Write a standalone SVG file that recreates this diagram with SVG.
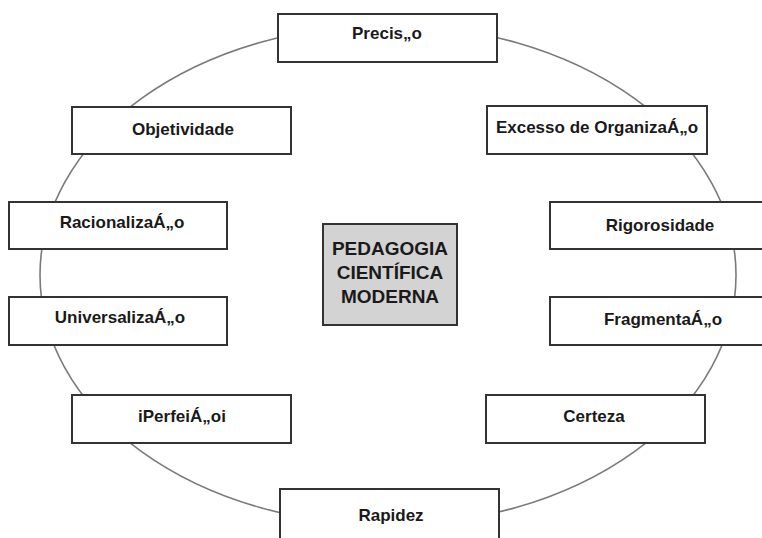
<svg xmlns="http://www.w3.org/2000/svg" width="762" height="538" viewBox="0 0 762 538">
<style>
.box{fill:#fff;stroke:#333;stroke-width:2}
.center{fill:#d3d3d3;stroke:#333;stroke-width:2}
.lbl{font-family:"Liberation Sans",Arial,sans-serif;font-weight:bold;font-size:17px;fill:#1a1a1a;text-anchor:middle}
.big{font-size:19px}
.ring{fill:none;stroke:#7a7a7a;stroke-width:1.6}
</style>
<rect width="762" height="538" fill="#fff"/>
<g id="connectors">
<ellipse class="ring" cx="388" cy="275" rx="348" ry="250"/>
</g>
<g id="center-node">
<rect class="center" x="323" y="224" width="134" height="101"/>
<text class="lbl big" x="390" y="255">PEDAGOGIA</text>
<text class="lbl big" x="390" y="279">CIENTÍFICA</text>
<text class="lbl big" x="390" y="303">MODERNA</text>
</g>
<g id="precisao">
<rect class="box" x="278" y="14" width="219" height="48"/>
<text class="lbl" x="387" y="39">Precis„o</text>
</g>
<g id="objetividade">
<rect class="box" x="72" y="107" width="219" height="47"/>
<text class="lbl" x="183" y="135">Objetividade</text>
</g>
<g id="excesso">
<rect class="box" x="487" y="106" width="220" height="48"/>
<text class="lbl" x="597" y="133">Excesso de OrganizaÁ„o</text>
</g>
<g id="racionalizacao">
<rect class="box" x="9" y="202" width="218" height="47"/>
<text class="lbl" x="122" y="228">RacionalizaÁ„o</text>
</g>
<g id="rigorosidade">
<rect class="box" x="550" y="202" width="220" height="47"/>
<text class="lbl" x="660" y="231">Rigorosidade</text>
</g>
<g id="universalizacao">
<rect class="box" x="9" y="297" width="218" height="48"/>
<text class="lbl" x="120" y="323">UniversalizaÁ„o</text>
</g>
<g id="fragmentacao">
<rect class="box" x="550" y="297" width="220" height="48"/>
<text class="lbl" x="663" y="325">FragmentaÁ„o</text>
</g>
<g id="perfeicao">
<rect class="box" x="72" y="395" width="219" height="48"/>
<text class="lbl" x="182" y="422">iPerfeiÁ„oi</text>
</g>
<g id="certeza">
<rect class="box" x="486" y="395" width="219" height="48"/>
<text class="lbl" x="594" y="422">Certeza</text>
</g>
<g id="rapidez">
<rect class="box" x="280" y="489" width="219" height="60"/>
<text class="lbl" x="391" y="521">Rapidez</text>
</g>
</svg>
